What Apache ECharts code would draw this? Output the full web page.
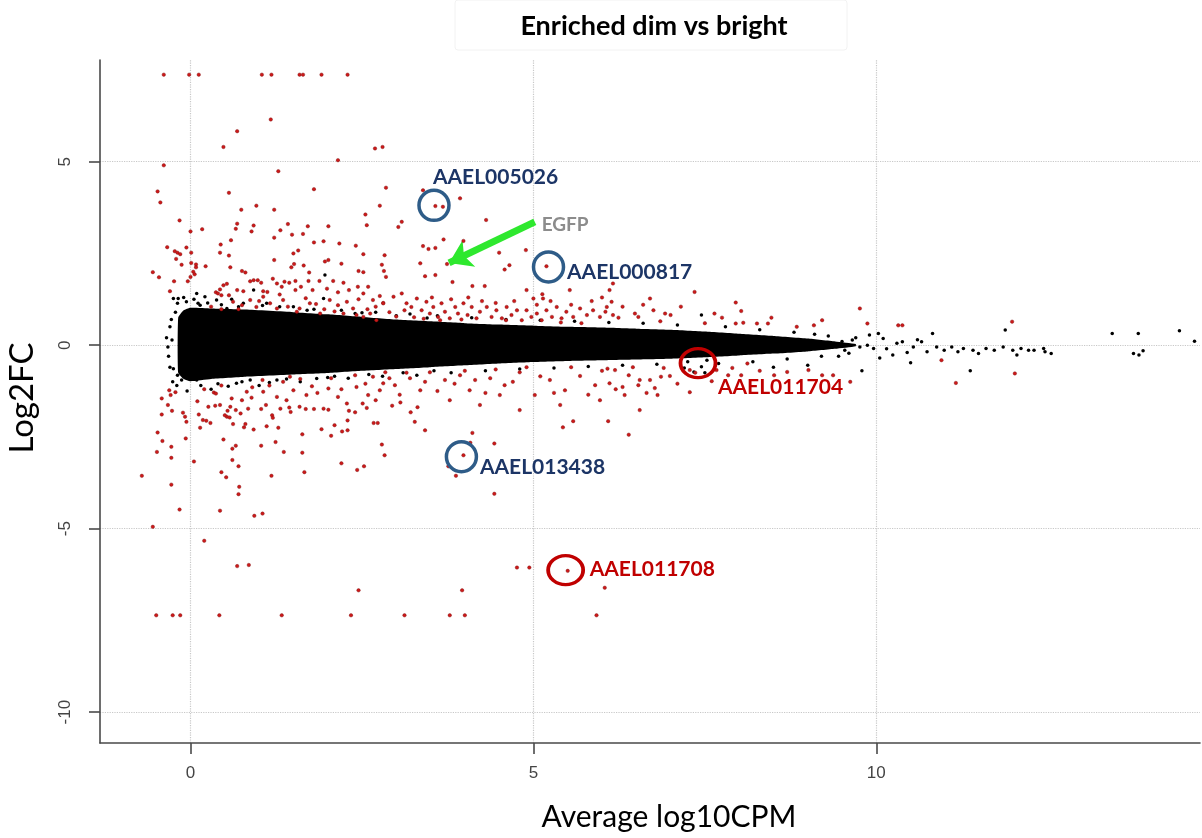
<!DOCTYPE html>
<html>
<head>
<meta charset="utf-8">
<title>Enriched dim vs bright</title>
<script src="https://cdn.jsdelivr.net/npm/echarts@6/dist/echarts.min.js"></script>
<style>
  html, body { margin: 0; padding: 0; background: #fff; }
  #chart { width: 1202px; height: 838px; }
</style>
</head>
<body>
<div id="chart"></div>
<script>
// axis ticks
const xTicks = [0, 5, 10];
const yTicks = [-10, -5, 0, 5];

// dense core of the non-significant genes (outline of the black cloud)
const bandX = [-0.18, -0.1, 0.0, 0.3, 0.8, 1.5, 2.0, 2.5, 3.0, 3.5, 4.0, 4.5, 5.0, 5.5, 6.0, 6.5, 7.0, 7.5, 8.0, 8.5, 9.0, 9.4, 9.7];
const bandTop = [0.75, 0.95, 1.02, 1.0, 0.97, 0.9, 0.84, 0.77, 0.7, 0.65, 0.6, 0.56, 0.53, 0.5, 0.48, 0.45, 0.42, 0.37, 0.31, 0.25, 0.18, 0.1, 0.03];
const bandBottom = [-0.75, -0.92, -0.98, -0.92, -0.86, -0.8, -0.76, -0.7, -0.65, -0.6, -0.55, -0.5, -0.46, -0.43, -0.41, -0.39, -0.37, -0.33, -0.28, -0.23, -0.17, -0.1, -0.03];

// scattered non-significant genes (black)
const blackPoints = [
  [-0.25, 1.27], [-0.19, 1.14], [-0.27, 0.14], [-0.25, -0.64], [-0.19, -0.82], [-0.13, -0.95], [-0.02, -0.91], [0.09, -0.95],
  [0.21, 1.32], [0.14, 1.09], [0.38, 1.23], [0.53, 1.0], [0.77, 1.14], [0.92, 1.5], [1.11, 1.14], [1.94, 1.27], [1.96, 1.91],
  [0.87, -0.95], [0.67, -1.04], [1.26, -0.95], [1.84, -0.91], [-0.18, 1.27], [-0.06, 1.18], [0.09, 1.41], [0.11, 1.14],
  [-0.3, 0.5], [-0.32, -0.3], [-0.22, 0.9], [-0.2, -1.1], [-0.05, -1.25], [0.3, -1.2], [0.6, 1.25], [1.0, -1.1], [1.5, 1.05],
  [1.6, -1.0], [2.2, 0.95], [2.3, -0.9], [2.7, 0.9], [2.8, -0.85],
  [-0.28, 0.7], [-0.3, -0.6], [-0.26, -1.0], [-0.1, 1.3], [0.05, 1.25], [0.25, 1.15], [0.45, 1.1], [0.7, 1.05], [1.3, 1.05],
  [1.8, 0.98], [2.5, 0.88], [0.15, -1.1], [0.4, -1.05], [0.75, -1.0], [1.4, -0.92], [2.0, -0.88], [2.6, -0.8], [-0.35, 0.2], [-0.33, -0.05],
  [0.55, -1.12], [1.05, 1.08], [1.15, -1.02], [1.7, 0.95], [2.1, -0.85], [2.4, 0.86], [3.0, 0.8], [3.1, -0.75], [3.45, 0.74], [3.55, -0.7],
  [3.2, 0.85], [3.6, 0.8], [4.1, 0.75], [4.6, 0.7], [5.1, 0.68], [5.6, 0.65], [6.1, 0.62], [6.6, 0.6], [7.1, 0.55], [7.45, 0.82],
  [7.8, 0.5], [8.3, 0.42], [8.8, 0.35], [9.1, 0.3],
  [3.3, -0.82], [3.8, -0.75], [4.3, -0.7], [4.8, -0.65], [5.3, -0.62], [5.8, -0.58], [6.3, -0.55], [6.8, -0.52], [7.2, -0.62],
  [7.5, -0.75], [7.7, -0.5], [8.2, -0.45], [8.7, -0.38], [9.2, -0.3], [9.0, -0.55], [8.5, -0.6],
  [7.25, -0.45], [7.34, -0.73], [7.45, -0.59], [7.53, -0.41],
  [9.37, 0], [9.54, -0.14], [9.65, 0.14], [9.76, -0.05], [9.79, -0.7], [9.87, 0], [9.96, -0.09], [9.3, 0.25], [9.45, -0.3],
  [9.5, 0.1], [9.6, -0.22], [9.7, 0.2], [9.9, 0.28], [10.05, -0.35], [10.15, -0.1], [10.3, 0.05], [10.45, -0.2], [10.6, 0.15],
  [10.03, 0.32], [10.1, 0.18], [10.24, -0.27], [10.38, 0.09], [10.5, -0.48], [10.54, -0.05], [10.66, 0.09], [10.74, -0.18],
  [10.82, 0.32], [10.88, -0.05], [10.99, -0.14], [11.1, -0.05], [11.19, -0.18], [11.27, -0.09], [11.37, -0.7], [11.41, -0.14],
  [11.49, -0.23], [11.6, -0.09], [11.72, -0.14], [11.85, -0.05], [11.88, 0.41], [11.99, -0.14], [12.05, -0.27], [12.11, -0.09],
  [12.22, -0.14], [12.3, -0.14], [12.44, -0.09], [12.46, -0.18], [12.55, -0.23], [13.44, 0.32], [13.75, -0.23], [13.82, 0.32],
  [13.83, -0.27], [13.89, -0.15], [14.42, 0.39], [14.64, 0.11]
];

// significant genes (red)
const redPoints = [
  [-0.39, 7.37], [-0.02, 7.37], [0.12, 7.37], [1.04, 7.37], [1.18, 7.37], [1.59, 7.37], [1.64, 7.37], [1.91, 7.37], [2.29, 7.37],
  [-0.5, -7.36], [-0.26, -7.36], [-0.15, -7.36], [0.42, -7.36], [1.33, -7.36], [2.34, -7.36], [3.12, -7.36], [3.78, -7.36], [4.0, -7.36], [5.92, -7.36],
  [1.17, 6.15], [0.68, 5.83], [0.48, 5.4], [2.69, 5.36], [2.8, 5.4], [-0.39, 4.9], [2.15, 5.04], [1.28, 4.74], [-0.48, 4.19],
  [-0.44, 3.89], [0.56, 4.15], [1.8, 4.25], [2.85, 4.29], [0.74, 3.69], [0.96, 3.8], [1.22, 3.69], [2.76, 3.8], [-0.16, 3.4],
  [2.55, 3.56], [2.57, 3.27], [0.0, 3.1], [0.17, 3.16], [0.68, 3.31], [0.66, 3.17], [0.89, 3.1], [0.92, 3.26], [1.42, 3.3],
  [1.31, 3.13], [1.22, 2.93], [1.48, 3.01], [1.64, 3.03], [1.71, 3.24], [2.01, 3.24], [1.8, 2.8], [1.94, 2.83], [2.17, 2.77],
  [2.41, 2.71], [2.52, 2.48], [2.83, 2.45], [-0.34, 2.67], [-0.23, 2.56], [-0.19, 2.52], [-0.15, 2.48], [-0.06, 2.66], [0.01, 2.52],
  [0.44, 2.74], [0.43, 2.52], [0.59, 2.86], [0.56, 2.44], [-0.21, 2.35], [-0.13, 2.19], [0.01, 2.24], [0.08, 2.2], [0.22, 2.15],
  [0.58, 2.12], [0.75, 2.02], [0.8, 1.98], [1.22, 2.32], [1.5, 2.5], [1.57, 2.58], [1.51, 2.21], [1.65, 2.17], [1.47, 2.12],
  [1.73, 1.98], [1.96, 2.28], [2.01, 2.32], [2.2, 2.22], [2.45, 2.02], [2.52, 1.99], [2.79, 2.19], [2.82, 2.02], [2.85, 1.86],
  [-0.55, 1.99], [-0.46, 1.85], [-0.24, 1.74], [-0.3, 1.47], [-0.04, 1.74], [0.0, 1.86], [0.04, 2.0], [0.06, 1.93], [0.08, 2.12],
  [0.37, 1.44], [0.4, 1.41], [0.43, 1.52], [0.45, 1.36], [0.48, 1.63], [0.53, 1.67], [0.56, 1.36], [0.68, 1.5], [0.77, 1.47],
  [0.87, 1.74], [0.92, 1.77], [0.98, 1.77], [1.03, 1.7], [1.06, 1.47], [1.2, 1.81], [1.26, 1.68], [1.33, 1.59], [1.37, 1.73],
  [1.44, 1.7], [1.53, 1.75], [1.53, 1.5], [1.61, 1.59], [1.72, 1.75], [1.78, 1.5], [1.88, 1.75], [1.99, 1.54], [2.08, 1.75],
  [2.15, 1.44], [2.23, 1.7], [2.31, 1.5], [2.44, 1.59], [2.52, 1.41], [2.59, 1.59], [2.66, 1.23], [2.76, 1.34], [2.81, 1.15],
  [1.55, 0.91], [1.59, 1.0], [1.74, 1.14], [1.89, 0.86], [2.03, 1.23], [2.15, 1.09], [2.23, 0.86], [2.37, 1.0], [2.42, 0.82],
  [2.52, 0.77], [2.62, 0.86], [2.71, 0.68], [2.81, 1.14], [0.75, 1.09], [0.87, 1.23], [0.96, 1.04], [1.06, 1.32], [1.16, 1.14],
  [1.26, 1.0], [1.35, 1.23],
  [0.3, 1.05], [0.45, 0.98], [0.62, 1.18], [0.7, 0.98], [1.0, 1.2], [1.12, 1.45], [1.3, 1.38], [1.42, 1.05], [1.68, 1.28],
  [1.83, 1.12], [1.95, 0.98], [2.1, 0.92], [2.28, 1.18], [2.45, 1.25], [2.58, 0.98], [2.7, 1.05], [2.9, 0.9], [3.0, 0.78],
  [3.12, 0.95], [3.26, 0.76], [3.4, 0.72], [3.52, 1.3], [3.64, 0.68], [3.8, 1.25], [3.95, 0.7], [4.05, 1.3], [4.25, 1.2],
  [4.45, 1.15], [4.6, 0.68], [4.72, 1.2], [4.9, 0.95], [5.05, 1.1], [5.25, 1.2], [5.4, 0.62], [5.55, 1.1], [5.7, 0.6],
  [5.85, 1.2], [6.0, 1.3], [6.3, 1.05], [6.6, 1.1], [6.85, 0.65], [7.15, 1.05], [7.5, 0.6], [7.75, 0.75],
  [3.57, 3.79], [3.68, 3.77], [3.74, 2.21], [5.19, 2.15], [3.39, 4.22], [3.93, 4.0], [3.03, 3.22], [3.08, 3.36], [4.31, 3.41],
  [3.69, 2.88], [3.39, 2.7], [3.47, 2.62], [3.57, 2.65], [3.98, 2.84], [4.5, 2.52], [4.89, 2.59], [4.65, 2.18], [4.58, 2.06],
  [3.35, 2.23], [3.42, 1.88], [3.57, 1.91], [3.82, 1.72], [4.11, 1.61], [4.29, 1.61], [4.9, 1.5], [5.0, 1.27], [5.13, 1.39],
  [5.14, 1.27], [5.53, 1.5], [6.16, 1.68],
  [2.96, 1.32], [3.08, 1.41], [3.15, 1.14], [3.22, 1.04], [3.3, 1.27], [3.37, 0.95], [3.44, 1.18], [3.49, 0.86], [3.54, 1.04],
  [3.61, 0.77], [3.66, 1.14], [3.71, 0.91], [3.78, 0.73], [3.86, 1.04], [3.9, 0.86], [3.98, 1.14], [4.04, 0.82], [4.1, 1.04],
  [4.17, 0.73], [4.22, 0.91], [4.32, 1.04], [4.39, 0.77], [4.46, 0.95], [4.54, 0.73], [4.61, 1.04], [4.68, 0.82], [4.76, 0.95],
  [4.83, 0.68], [4.97, 0.77], [5.05, 0.86], [5.12, 0.68], [5.19, 0.95], [5.27, 0.77], [5.34, 1.04], [5.41, 0.73], [5.48, 0.91],
  [5.58, 0.77], [5.68, 1.0], [5.78, 0.82], [5.87, 0.95], [5.97, 0.77], [6.07, 1.04],
  [6.11, 1.5], [6.14, 1.18], [6.05, 0.91], [6.16, 0.82], [6.24, 0.75], [6.48, 0.86], [6.53, 0.77], [6.7, 1.27], [6.75, 0.95],
  [6.92, 0.86], [7.0, 0.82], [7.35, 1.45], [7.64, 0.86], [7.95, 1.16], [8.03, 0.93], [7.95, 0.59], [8.06, 0.61], [8.26, 0.59],
  [8.42, 0.59], [8.47, 0.75], [8.84, 0.5], [9.09, 0.54], [9.21, 0.68], [9.76, 1.0], [9.87, 0.59], [10.32, 0.54], [10.38, 0.54],
  [11.98, 0.64],
  [10.95, -0.41], [11.16, -1.03], [12.02, -0.77], [9.62, -1.0], [9.37, -0.82], [9.21, -0.82], [9.01, -0.68], [8.7, -0.73],
  [8.51, -0.82], [8.12, -0.5], [8.03, -0.82], [7.84, -0.82], [7.67, -0.68], [6.86, -0.86], [6.81, -1.36], [6.7, -0.95],
  [6.53, -1.09], [6.39, -0.82], [6.3, -1.14], [6.11, -1.04], [6.19, -0.68], [6.08, -0.64], [7.28, -0.68], [7.36, -0.75],
  [-0.42, -1.45], [-0.31, -1.23], [-0.29, -1.36], [-0.22, -1.28], [-0.42, -1.89], [-0.33, -1.63], [-0.11, -1.84], [-0.08, -1.95],
  [0.1, -1.53], [0.18, -2.04], [0.26, -1.68], [0.34, -1.29], [0.37, -1.32], [0.53, -1.95], [0.58, -1.68], [0.66, -1.77],
  [0.75, -1.5], [0.82, -1.27], [0.89, -1.43], [1.05, -0.95], [1.06, -1.27], [1.19, -1.91], [1.26, -1.41], [1.35, -1.0],
  [1.45, -0.86], [1.5, -1.23], [1.59, -1.68], [1.69, -1.36], [1.77, -1.12], [1.94, -1.73], [2.01, -1.18], [2.15, -1.41],
  [2.28, -1.59], [2.42, -1.14], [2.51, -1.59], [2.59, -1.36], [2.66, -0.86], [2.76, -1.23], [2.81, -1.04],
  [0.2, -1.2], [0.45, -1.1], [0.6, -1.45], [0.9, -1.15], [1.15, -1.1], [1.4, -1.5], [1.6, -0.92], [1.85, -1.3], [2.05, -0.9],
  [2.2, -1.2], [2.4, -0.82], [2.55, -1.05], [2.7, -1.5], [2.9, -0.9], [3.05, -1.35], [3.15, -0.75], [3.42, -1.0], [3.6, -1.25],
  [3.85, -1.05], [4.0, -0.7], [4.15, -0.95], [4.3, -1.3], [4.45, -0.66], [4.7, -1.0], [4.9, -0.6], [5.1, -0.85], [5.3, -1.3],
  [5.55, -0.6], [5.8, -1.35], [6.0, -0.7], [6.2, -1.2], [6.45, -0.6], [6.65, -1.3], [6.9, -0.62], [7.1, -1.05], [7.6, -0.98],
  [7.9, -0.62], [8.3, -0.7],
  [-0.27, -1.79], [-0.48, -2.38], [-0.41, -2.61], [-0.49, -2.91], [-0.28, -2.77], [-0.28, -3.07], [-0.71, -3.56], [-0.28, -3.8],
  [-0.16, -4.48], [-0.55, -4.95], [-0.07, -2.54], [-0.06, -2.09], [0.05, -3.17], [0.12, -1.89], [0.14, -2.25], [0.23, -2.06],
  [0.29, -2.12], [0.2, -5.33], [0.36, -1.65], [0.43, -1.63], [0.48, -2.57], [0.45, -3.46], [0.52, -3.6], [0.43, -4.51],
  [0.5, -1.91], [0.57, -1.97], [0.54, -1.79], [0.62, -2.15], [0.61, -2.82], [0.66, -2.74], [0.61, -3.13], [0.7, -3.3],
  [0.71, -3.86], [0.7, -4.06], [0.68, -6.02], [0.85, -5.99], [0.78, -2.24], [0.8, -2.15], [0.73, -1.86], [0.84, -1.73],
  [0.92, -2.3], [0.93, -4.65], [1.05, -4.59], [1.03, -1.74], [1.1, -1.63], [1.11, -2.21], [1.03, -2.74], [1.18, -3.56],
  [1.2, -1.98], [1.24, -2.64], [1.28, -2.25], [1.31, -1.73], [1.36, -2.91], [1.44, -1.7], [1.46, -1.82], [1.63, -2.43],
  [1.63, -2.93], [1.66, -3.46], [1.68, -1.74], [1.8, -1.74], [1.91, -2.29], [2.01, -1.76], [2.05, -2.47], [2.1, -2.18],
  [2.2, -3.22], [2.21, -2.35], [2.29, -2.32], [2.29, -2.05], [2.31, -1.79], [2.4, -1.83], [2.43, -3.4], [2.53, -3.3],
  [2.45, -6.68], [2.57, -1.71], [2.67, -2.12], [2.73, -2.12], [2.79, -2.71], [2.83, -3.0], [2.94, -1.65], [3.06, -1.56],
  [3.21, -1.83], [3.31, -1.69], [3.27, -2.09], [3.42, -2.32],
  [4.11, -2.39], [4.43, -2.68], [4.08, -2.66], [3.98, -3.0], [3.76, -3.3], [3.87, -3.56], [4.43, -4.05], [5.43, -2.24],
  [5.58, -2.07], [6.09, -2.07], [6.39, -2.44], [4.76, -6.06], [4.94, -6.06], [5.5, -6.15], [6.04, -6.61], [3.96, -6.68],
  [3.49, -0.74], [3.71, -0.95], [3.93, -0.82], [4.07, -1.23], [4.37, -0.9], [4.58, -1.09], [4.8, -0.74], [5.02, -1.36],
  [5.24, -0.95], [5.46, -1.23], [5.68, -0.84], [5.9, -1.09], [6.33, -1.36], [6.55, -0.95], [6.77, -1.17], [6.99, -0.84],
  [7.28, -1.28], [3.78, -1.5], [4.22, -1.63], [4.8, -1.77], [5.39, -1.63], [5.97, -1.5], [6.55, -1.77], [4.51, -1.36],
  [3.35, -1.23], [3.2, -0.9], [2.98, -1.09], [2.84, -0.74]
];

// highlighted genes: ring position, label position, colour group
const geneNames = ["AAEL005026", "AAEL000817", "AAEL013438", "AAEL011704", "AAEL011708"];
const geneRings = [[3.55, 3.81], [5.22, 2.13], [3.95, -3.04], [7.4, -0.49], [5.47, -6.13]];
const geneLabelPos = [[3.535, 4.58], [5.49, 1.99], [4.22, -3.32], [7.69, -1.14], [5.82, -6.1]];
const geneGroup = ["up", "up", "up", "down", "down"];

// EGFP arrow and label
const egfpArrow = [[5.02, 3.36], [3.77, 2.24]];
const egfpLabelPos = [5.12, 3.27];

const ringStyle = {
  up: { color: "#2e5c88", text: "#1c3566", size: [30, 30] },
  down: { color: "#c00000", text: "#c00000", size: [35, 29] }
};

const chart = echarts.init(document.getElementById("chart"));

chart.setOption({
  backgroundColor: "#ffffff",
  animation: false,
  grid: { left: 100, right: 2, top: 60, bottom: 95 },
  xAxis: {
    type: "value",
    min: -1.32,
    max: 14.72,
    splitLine: { show: false },
    axisLine: { onZero: false, lineStyle: { color: "#4a4a4a", width: 1.6 } },
    axisTick: { customValues: xTicks, length: 11, lineStyle: { color: "#4a4a4a", width: 1.6 } },
    axisLabel: { customValues: xTicks, margin: 22, color: "#444", fontSize: 17, fontFamily: "Liberation Sans" }
  },
  yAxis: {
    type: "value",
    min: -10.84,
    max: 7.77,
    splitLine: { show: false },
    axisLine: { show: true, onZero: false, lineStyle: { color: "#4a4a4a", width: 1.6 } },
    axisTick: { show: true, customValues: yTicks, length: 11, lineStyle: { color: "#4a4a4a", width: 1.6 } },
    axisLabel: { customValues: yTicks, rotate: 90, margin: 26, color: "#444", fontSize: 17, fontFamily: "Liberation Sans" }
  },
  graphic: [
    {
      type: "rect",
      shape: { x: 455, y: 0, width: 392, height: 50, r: 3 },
      style: { fill: "#ffffff", stroke: "#f2f2f2", lineWidth: 1 },
      z: 1
    },
    {
      type: "text",
      x: 654, y: 26,
      style: { text: "Enriched dim vs bright", fill: "#000", font: "bold 27px Lato", textAlign: "center", textVerticalAlign: "middle" },
      z: 2
    },
    {
      type: "text",
      x: 22, y: 398,
      rotation: Math.PI / 2,
      style: { text: "Log2FC", fill: "#000", font: "33px Lato", textAlign: "center", textVerticalAlign: "middle" }
    },
    {
      type: "text",
      x: 669, y: 817,
      style: { text: "Average log10CPM", fill: "#000", font: "30px Lato", textAlign: "center", textVerticalAlign: "middle" }
    }
  ],
  series: [
    {
      // grid lines, kept under every mark
      type: "scatter",
      data: [],
      silent: true,
      z: 0,
      zlevel: 0,
      markLine: {
        silent: true,
        symbol: "none",
        z: 0,
        label: { show: false },
        lineStyle: { color: "#c8c8c8", type: "dotted", width: 1.2 },
        data: xTicks.map((v) => ({ xAxis: v })).concat(yTicks.map((v) => ({ yAxis: v })))
      }
    },
    {
      type: "custom",
      z: 10,
      silent: true,
      data: [[5, 0]],
      renderItem: (params, api) => {
        const top = bandX.map((x, i) => api.coord([x, bandTop[i]]));
        const bottom = bandX.map((x, i) => api.coord([x, bandBottom[i]])).reverse();
        return {
          type: "polygon",
          shape: { points: top.concat(bottom), smooth: 0.15 },
          style: { fill: "#000" }
        };
      }
    },
    {
      type: "scatter",
      z: 11,
      data: blackPoints,
      symbolSize: 3.5,
      itemStyle: { color: "#000", opacity: 1 }
    },
    {
      type: "scatter",
      z: 12,
      data: redPoints,
      symbolSize: 3.5,
      itemStyle: { color: "#cc1a1a", borderColor: "#7a0c0c", borderWidth: 0.4, opacity: 1 }
    },
    {
      // rings round the highlighted genes
      type: "scatter",
      z: 13,
      data: geneRings.map((p, i) => ({
        value: p,
        symbolSize: ringStyle[geneGroup[i]].size,
        itemStyle: { color: "transparent", borderColor: ringStyle[geneGroup[i]].color, borderWidth: 3.5, opacity: 1 }
      }))
    },
    {
      // gene labels and the EGFP arrow
      type: "scatter",
      z: 14,
      symbolSize: 0,
      itemStyle: { opacity: 1 },
      data: geneLabelPos.map((p, i) => ({
        value: p,
        name: geneNames[i],
        label: { color: ringStyle[geneGroup[i]].text }
      })).concat([{ value: egfpLabelPos, name: "EGFP", label: { color: "#8c8c8c", fontSize: 19 } }]),
      label: {
        show: true,
        position: "right",
        distance: 0,
        formatter: "{b}",
        fontFamily: "Lato",
        fontWeight: "bold",
        fontSize: 21
      },
      markLine: {
        silent: true,
        symbol: ["none", "arrow"],
        symbolSize: [22, 22],
        label: { show: false },
        lineStyle: { color: "#2ee82e", width: 7, type: "solid", opacity: 1 },
        itemStyle: { color: "#2ee82e" },
        data: [[{ coord: egfpArrow[0] }, { coord: egfpArrow[1] }]]
      }
    }
  ]
});
</script>
</body>
</html>
